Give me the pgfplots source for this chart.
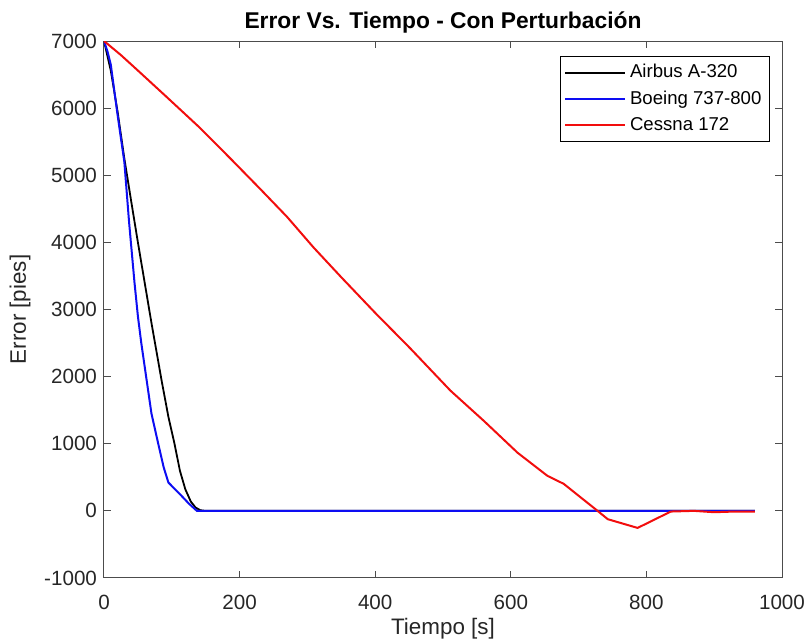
\documentclass[border=0pt]{standalone}
\usepackage{pgfplots}
\pgfplotsset{compat=1.18}
\usepackage{fontspec}
\setmainfont{Liberation Sans}
\definecolor{mblue}{rgb}{0.05,0.05,0.95}
\definecolor{mred}{rgb}{0.95,0.05,0.05}
\begin{document}
\begin{tikzpicture}
\begin{axis}[
 name=ax,
 at={(0pt,0pt)}, anchor=south west,
 scale only axis, width=339pt, height=268.5pt,
 xmin=0,xmax=1000,ymin=-1000,ymax=7000,
 xtick={0,200,...,1000}, ytick={-1000,0,...,7000},
 tick align=inside, xtick pos=both, ytick pos=both,
 major tick length=3.5pt,
 axis line style={black!70, line width=0.5pt},
 tick style={black!70, line width=0.5pt},
 /pgf/number format/assume math mode=true,
 /pgf/number format/1000 sep={},
 ticklabel style={font=\fontsize{10.3}{12}\selectfont, text=black!85},
 xticklabel style={yshift=-5pt},
 xlabel={Tiempo [s]}, ylabel={Error [pies]},
 label style={font=\fontsize{11.2}{13}\selectfont, text=black!85},
 xlabel style={yshift=2.5pt},
 title={Error Vs. Tiempo - Con Perturbación},
 title style={font=\fontsize{11.4}{13}\selectfont\bfseries, yshift=-5.5pt},
 legend style={at={(0.982,0.972)}, anchor=north east, draw=black, line width=0.4pt,
   font=\fontsize{9.3}{11}\selectfont, row sep=1pt, inner sep=2pt},
 legend cell align=left,
 legend image code/.code={\draw[#1] (0pt,0pt) -- (30pt,0pt);},
]
\addplot[black, line width=0.9pt] coordinates {
(0,7000)(5,6780)(10,6560)(20,5950)(30,5250)(40,4620)(50,4000)(60,3400)(70,2800)(85,1940)(95,1400)(104,1000)(112,597)(120,320)(128,140)(135,50)(142,10)(150,0)(960,0)};
\addlegendentry{Airbus A-320}
\addplot[mblue, line width=1pt] coordinates {
(0,7000)(5,6850)(10,6650)(20,5900)(30,5200)(37,4300)(45,3400)(50,2900)(55,2500)(63,1940)(70,1450)(80,1000)(88,650)(95,422)(105,320)(112,249)(125,110)(137,0)(960,0)};
\addlegendentry{Boeing 737-800}
\addplot[mred, line width=1pt] coordinates {
(0,7000)(25,6790)(50,6560)(92,6170)(140,5720)(186,5254)(230,4800)(270,4380)(309,3925)(350,3480)(400,2950)(452,2418)(511,1791)(560,1343)(610,866)(654,522)(678,403)(728,0)(743,-124)(787,-254)(836,-10)(870,0)(900,-20)(930,-10)(960,-10)};
\addlegendentry{Cessna 172}
\end{axis}
\pgfresetboundingbox
\path (-52pt,-32pt) rectangle (353pt,289pt);
\end{tikzpicture}
\end{document}
